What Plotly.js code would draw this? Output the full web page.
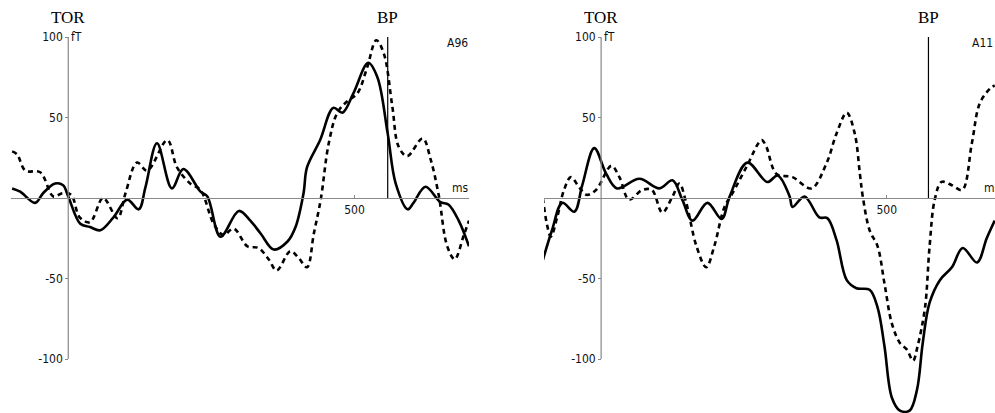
<!DOCTYPE html>
<html>
<head>
<meta charset="utf-8">
<script src="https://cdn.plot.ly/plotly-3.0.1.min.js"></script>
<style>html,body{margin:0;padding:0;background:#fff}#chart{width:995px;height:413px}</style>
</head>
<body>
<div id="chart"></div>
<script>
// ---- Data (time in ms, field in fT) ----
// Left panel (A96)
const a96SolidT = [-98,-84,-58,-44,-23,-9,0,21,38,56,79,103,123,135,155,181,201,231,243,266,298,318,336,359,383,397,411,417,440,463,479,498,524,540,558,572,593,603,624,650,664,682,700];
const a96SolidV = [6,4,-3,3,9,8,1,-16,-18,-20,-12,-1,-7,7,34,6,18,4,1,-24,-8,-14,-22,-32,-27,-18,3,19,36,56,53,65,84,75,40,9,-7,-3,7,-2.5,-4,-14,-30];
const a96DashT = [-98,-89,-75,-49,-26,-10,5,20,38,61,86,100,120,138,173,190,213,231,254,271,289,313,332,350,364,388,402,417,429,441,455,470,487,505,522,538,551,566,577,592,619,633,647,662,675,691,700];
const a96DashV = [29,27,17,16,1,3,2,-12,-15,0,-12.5,3,22,17,36,19,9,5,-16,-23,-19,-30,-31,-38,-45,-33,-37,-43,-22,-1,34,53,60,65,81,98,90,57,32,26,37,24,2,-30,-38,-23,-14];
// Right panel (A11)
const a11SolidT = [-102,-86,-68,-47,-33,-12,9,28,67,102,125,142,160,186,211,225,256,291,309,330,335,356,382,396,412,430,447,470,484,496,509,523,540,553,563,575,593,614,633,658,675,689];
const a11SolidV = [-38.5,-20,-3,-8.5,8,31,15,6,12,6,11,-1,-14,-3,-13,1,22,10,14,1,-5.5,1,-12,-12.5,-26,-51,-56,-57,-68,-92,-124,-132,-132,-119,-90,-65,-51,-43,-31,-40,-25,-14];
const a11DashT = [-102,-95,-88,-77,-65,-53,-39,-26,-9,18,32,49,72,89,107,125,137,149,167,184,198,216,230,254,281,289,307,335,368,395,412,430,444,453,458,470,484,496,509,523,535,546,554,567,575,584,596,614,632,649,663,681,689];
const a11DashV = [0,-16,-24,-12,5,13,7,2,5,20,13,-1,5,5,-9,1,9,-3,-30,-43,-30,-5.5,3,19,36,32,15,13,6,22,40,53,40,15,1,-20,-30,-53,-78,-90,-94,-101,-92,-68,-30,-1,10,8,5,34,59,68,70];

// Event markers and labels
const bpTimes = [558, 573];
const channelNames = ['A96', 'A11'];
const yTickVals = [-100, -50, 50, 100];
const yTickText = ['-100', '-50', '50', '100'];
const xTickVals = [500];
const xTickText = ['500'];

// ---- Layout geometry ----
const W = 995, H = 413;
const yRange = [-133.5, 123];
const panels = [
  {dom: [11/W, 469/W], rng: [-100, 700]},
  {dom: [544/W, 1], rng: [-100, 689.5]}
];
function paperX(p, t) { return p.dom[0] + (t - p.rng[0]) / (p.rng[1] - p.rng[0]) * (p.dom[1] - p.dom[0]); }
const zeroY = (0 - yRange[0]) / (yRange[1] - yRange[0]);

const tickFont = {family: '"DejaVu Sans Condensed", "Liberation Sans Narrow", "Arial Narrow", sans-serif', size: 12, color: '#111'};
const serifFont = {family: '"Liberation Serif", "Times New Roman", serif', size: 17, color: '#000'};

const solidLine = {color: '#000', width: 2.6, shape: 'spline', smoothing: 1};
const dashLine = {color: '#000', width: 2.6, shape: 'spline', smoothing: 1, dash: '5px,4px'};

const traces = [
  {x: a96SolidT, y: a96SolidV, xaxis: 'x', yaxis: 'y', mode: 'lines', line: solidLine, hoverinfo: 'skip'},
  {x: a96DashT, y: a96DashV, xaxis: 'x', yaxis: 'y', mode: 'lines', line: dashLine, hoverinfo: 'skip'},
  {x: a11SolidT, y: a11SolidV, xaxis: 'x2', yaxis: 'y2', mode: 'lines', line: solidLine, hoverinfo: 'skip'},
  {x: a11DashT, y: a11DashV, xaxis: 'x2', yaxis: 'y2', mode: 'lines', line: dashLine, hoverinfo: 'skip'}
];

function xAxis(p) {
  return {domain: p.dom, range: p.rng, anchor: 'free', position: zeroY, showgrid: false, zeroline: false,
    showline: true, linecolor: '#888', linewidth: 1.2, ticks: 'inside', ticklen: 3, tickcolor: '#888',
    tickvals: xTickVals, ticktext: xTickText, tickfont: tickFont, fixedrange: true};
}
function yAxis(p) {
  return {domain: [0, 1], range: yRange, anchor: 'free', position: paperX(p, 0), showgrid: false, zeroline: false,
    showline: false, ticks: 'outside', ticklen: 3, tickcolor: '#888', tickvals: yTickVals, ticktext: yTickText,
    tickfont: tickFont, fixedrange: true};
}

const shapes = [];
const annotations = [];
['x', 'x2'].forEach((xr, i) => {
  const yr = i === 0 ? 'y' : 'y2';
  shapes.push({type: 'line', xref: xr, yref: yr, x0: 0, x1: 0, y0: -100, y1: 100, line: {color: '#888', width: 1.2}});
  shapes.push({type: 'line', xref: xr, yref: yr, x0: bpTimes[i], x1: bpTimes[i], y0: 0, y1: 100, line: {color: '#000', width: 1.2}});
  annotations.push({xref: xr, yref: yr, x: 0, y: 112, text: 'TOR', showarrow: false, font: serifFont});
  annotations.push({xref: xr, yref: yr, x: bpTimes[i], y: 112, text: 'BP', showarrow: false, font: serifFont});
  annotations.push({xref: xr, yref: yr, x: 2, y: 100, text: 'fT', showarrow: false, xanchor: 'left', font: tickFont});
  annotations.push({xref: xr, yref: yr, x: 680 - i * 12, y: 96, text: channelNames[i], showarrow: false, font: tickFont});
  annotations.push({xref: xr, yref: yr, x: 685, y: 6.5, text: 'ms', showarrow: false, font: tickFont});
});

const layout = {
  width: W, height: H,
  margin: {l: 0, r: 0, t: 0, b: 0},
  paper_bgcolor: '#fff', plot_bgcolor: 'rgba(0,0,0,0)',
  showlegend: false,
  xaxis: xAxis(panels[0]),
  yaxis: yAxis(panels[0]),
  xaxis2: xAxis(panels[1]),
  yaxis2: yAxis(panels[1]),
  shapes: shapes,
  annotations: annotations
};

Plotly.newPlot('chart', traces, layout, {displayModeBar: false, staticPlot: true});
</script>
</body>
</html>
